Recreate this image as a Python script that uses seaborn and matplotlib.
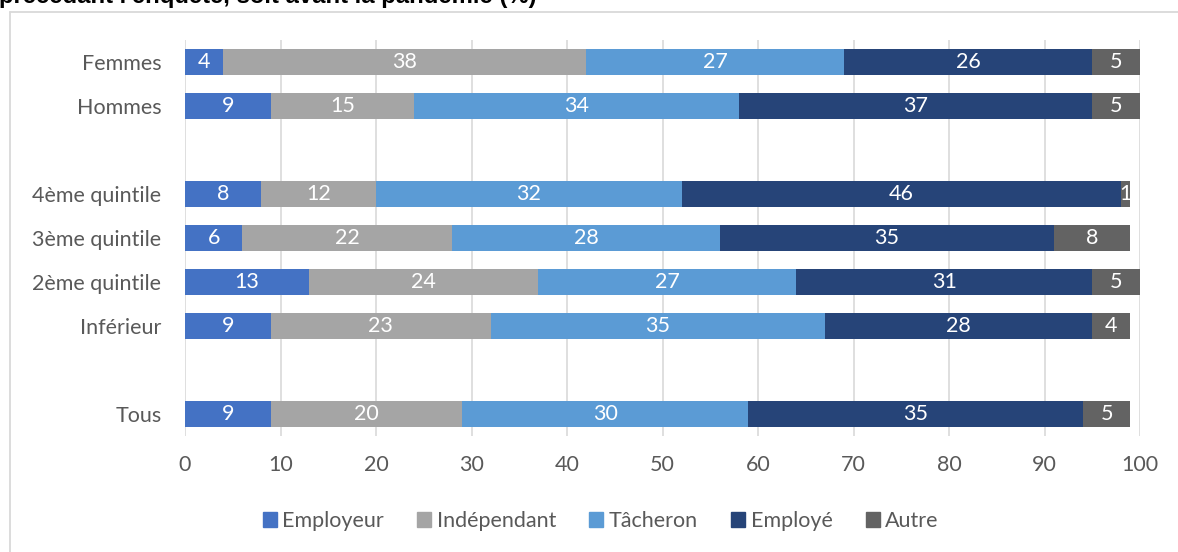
import matplotlib
matplotlib.use("Agg")
import matplotlib.pyplot as plt
from matplotlib.lines import Line2D
import seaborn as sns
import pandas as pd

# Répartition par statut d'emploi (%)
groups = ["Femmes", "Hommes", "4ème quintile", "3ème quintile",
          "2ème quintile", "Inférieur", "Tous"]
employeur = [4, 9, 8, 6, 13, 9, 9]
independant = [38, 15, 12, 22, 24, 23, 20]
tacheron = [27, 34, 32, 28, 27, 35, 30]
employe = [26, 37, 46, 35, 31, 28, 35]
autre = [5, 5, 1, 8, 5, 4, 5]

series_names = ["Employeur", "Indépendant", "Tâcheron", "Employé", "Autre"]
series_values = [employeur, independant, tacheron, employe, autre]
colors = ["#4472C4", "#A5A5A5", "#5B9BD5", "#264478", "#636363"]

# blank rows separate the blocks of the chart
row_order = ["Femmes", "Hommes", " ", "4ème quintile", "3ème quintile",
             "2ème quintile", "Inférieur", "  ", "Tous"]

title_text = "précédant l'enquête, soit avant la pandémie (%)"

# long table with start / end of each stacked segment
records = []
for g_i, g in enumerate(groups):
    start = 0
    for name, vals in zip(series_names, series_values):
        v = vals[g_i]
        records.append({"groupe": g, "statut": name, "valeur": v,
                        "debut": start, "fin": start + v})
        start += v
df = pd.DataFrame(records)

sns.set_theme(style="white")
plt.rcParams["font.family"] = ["Lato", "DejaVu Sans"]

FS = 15.5
W, H = 1178, 552
fig = plt.figure(figsize=(W / 100, H / 100), dpi=100)
ax = fig.add_axes([185 / W, 1 - 436 / H, (1140 - 185) / W, (436 - 40) / H])

# cumulative bars drawn from the last series to the first so each segment shows
for name, col in reversed(list(zip(series_names, colors))):
    sub = df[df["statut"] == name]
    sns.barplot(data=sub, x="fin", y="groupe", order=row_order, orient="h",
                color=col, saturation=1, width=0.57, errorbar=None,
                linewidth=0, ax=ax, zorder=3)

# value labels
for _, r in df.iterrows():
    ypos = row_order.index(r["groupe"])
    ax.text(r["debut"] + r["valeur"] / 2, ypos, f"{r['valeur']:g}",
            ha="center", va="center", color="white", fontsize=FS, zorder=5)

ax.set_xlim(0, 100)
ax.set_ylim(8.5, -0.5)
ax.set_xticks(range(0, 101, 10))
ax.set_xlabel("")
ax.set_ylabel("")
ax.grid(axis="x", color="#D9D9D9", linewidth=1.2)
ax.grid(axis="y", visible=False)
ax.set_axisbelow(True)
for s in ax.spines.values():
    s.set_visible(False)
ax.tick_params(axis="y", length=0, pad=17, labelsize=FS, labelcolor="#595959")
ax.tick_params(axis="x", length=0, pad=14, labelsize=FS, labelcolor="#595959")

# legend
handles = [plt.Rectangle((0, 0), 1, 1, color=c) for c in colors]
fig.legend(handles, series_names, loc="center", bbox_to_anchor=(0.510, 1 - 521 / H),
           ncol=5, frameon=False, fontsize=FS, handlelength=0.65,
           handleheight=0.65, handletextpad=0.25, columnspacing=1.55,
           labelcolor="#595959")

# chart frame (top and left edges)
fx0, fy0 = 9.5 / W, 1 - 11.5 / H
fig.add_artist(Line2D([fx0, 1.0], [fy0, fy0], transform=fig.transFigure,
                      color="#D9D9D9", linewidth=1.3))
fig.add_artist(Line2D([fx0, fx0], [0, fy0], transform=fig.transFigure,
                      color="#D9D9D9", linewidth=1.3))

# title line, partly above the top edge
fig.text(-1 / W, 1 - 3 / H, title_text, ha="left", va="baseline",
         fontsize=17.2, fontweight="bold", color="black",
         family=["Liberation Sans", "DejaVu Sans"])

fig.savefig("out.png", dpi=100)
